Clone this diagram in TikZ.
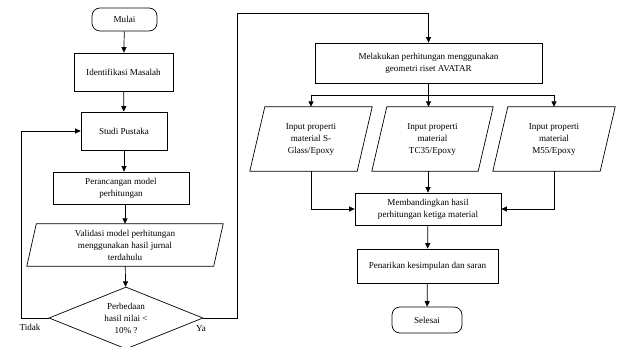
\documentclass[tikz,border=0pt]{standalone}
\usepackage{fontspec}
\setmainfont{Liberation Serif}
\usetikzlibrary{arrows.meta,shapes.geometric}
\begin{document}
\begin{tikzpicture}[x=1pt,y=-1pt,
  line/.style={draw=black,line width=0.7pt},
  arr/.style={line,-{Triangle[length=5.5pt,width=5pt]}},
  txt/.style={font=\fontsize{9.1}{12}\selectfont,align=center,inner sep=0pt},
  box/.style={txt,line,rectangle},
  term/.style={box,rounded corners=8pt},
  para/.style={txt,rectangle,draw=none}]
\useasboundingbox (0,0) rectangle (618,347);
% left column
\node[term,minimum width=65,minimum height=23] (mulai) at (124.5,19.5) {Mulai};
\node[box,minimum width=99,minimum height=38] (ident) at (123.5,72) {Identifikasi Masalah};
\node[box,minimum width=86,minimum height=38] (studi) at (124,131) {Studi Pustaka};
\node[box,minimum width=136,minimum height=32] (peran) at (121,188) {Perancangan model\\perhitungan};
\node[para,minimum width=196,minimum height=42] (valid) at (125,245) {Validasi model perhitungan\\menggunakan hasil jurnal\\terdahulu};
\node[line,diamond,minimum width=154,minimum height=62,inner sep=0pt] (dec) at (126,318) {};
\node[txt] (dect) at (dec.center) {Perbedaan\\hasil nilai <\\10\% ?};
\node[txt] (tidak) at (30,327) {Tidak};
\node[txt] (ya) at (201,329) {Ya};
% right column
\node[box,minimum width=227,minimum height=40] (melak) at (428.5,63) {Melakukan perhitungan menggunakan\\geometri riset AVATAR};
\node[para,minimum width=122,minimum height=64] (p1) at (311,139) {Input properti\\material S-\\Glass/Epoxy};
\node[para,minimum width=121,minimum height=64] (p2) at (432.5,139) {Input properti\\material\\TC35/Epoxy};
\node[para,minimum width=122,minimum height=64] (p3) at (554,139) {Input properti\\material\\M55/Epoxy};
\node[box,minimum width=146,minimum height=32] (band) at (428,209) {Membandingkan hasil\\perhitungan ketiga material};
\node[box,minimum width=141,minimum height=34] (pen) at (427.5,266) {Penarikan kesimpulan dan saran};
\node[term,minimum width=70,minimum height=26] (sel) at (427,320) {Selesai};
% parallelograms
\foreach \n/\s in {valid/9.5,p1/15,p2/15,p3/15}
  \draw[line] ([xshift=\s pt]\n.north west) -- (\n.north east) -- ([xshift=-\s pt]\n.south east) -- (\n.south west) -- cycle;
% coordinates
\coordinate (lp) at (21,318);
\coordinate (ya1) at (237,318);
\coordinate (ya2) at (237,13);
\coordinate (spl) at (428.5,95);
% connectors left
\draw[arr] (mulai) -- (ident);
\draw[arr] (ident) -- (studi);
\draw[arr] (studi) -- (studi |- peran.north);
\draw[arr] (peran.south -| valid) -- (valid.north);
\draw[arr] (valid) -- (dec);
\draw[arr] (dec.west) -- (lp) |- (studi.west);
\draw[arr] (dec.east) -- (ya1) -- (ya2) -| (melak.north);
% connectors right
\draw[arr] (melak.south) -- (melak.south |- p2.north);
\draw[line] (p1.north |- spl) -- (p3.north |- spl);
\draw[arr] (p1.north |- spl) -- (p1.north);
\draw[arr] (p3.north |- spl) -- (p3.north);
\draw[arr] (p1.south) |- (band.west);
\draw[arr] (band.north |- p2.south) -- (band.north);
\draw[arr] (p3.south) |- (band.east);
\draw[arr] (band) -- (pen);
\draw[arr] (pen) -- (sel);
\end{tikzpicture}
\end{document}
